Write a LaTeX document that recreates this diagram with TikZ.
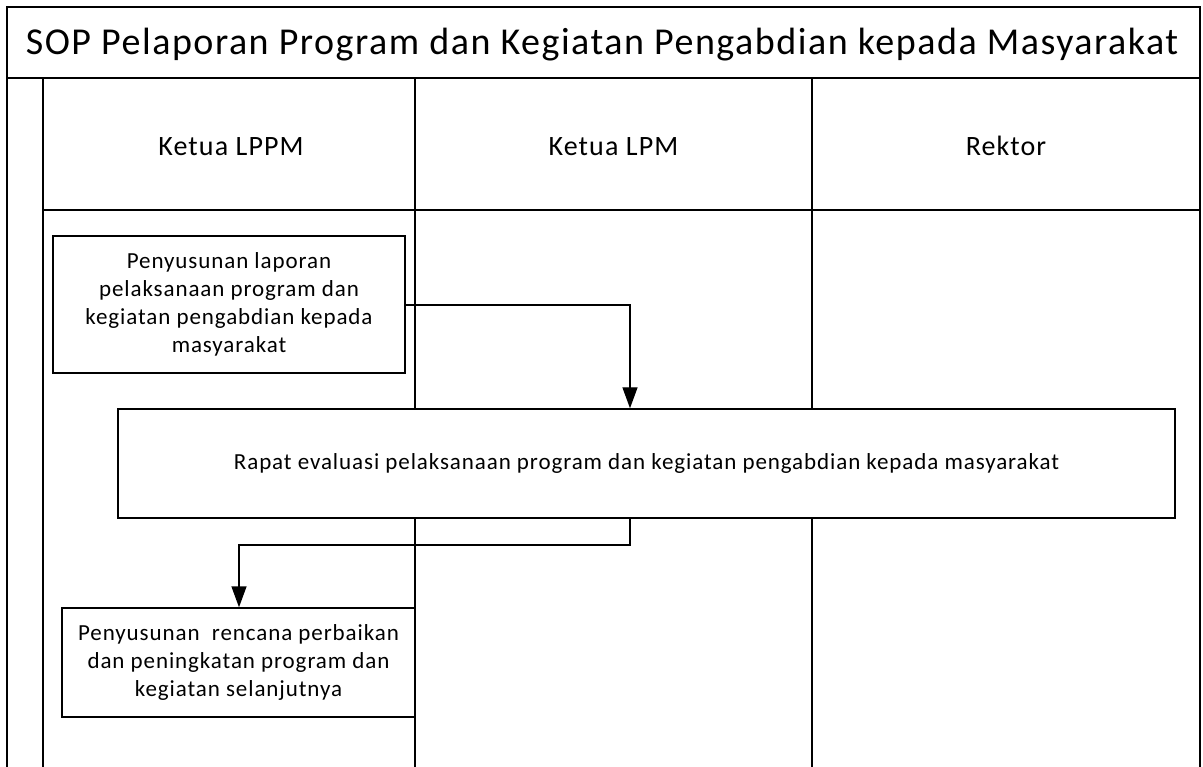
\documentclass[tikz,border=0pt]{standalone}
\usepackage{fontspec}
\setmainfont{Carlito}
\newfontfamily\spaced[LetterSpace=4]{Carlito}
\usetikzlibrary{arrows.meta}
\begin{document}
\begin{tikzpicture}[x=1pt,y=-1pt,
  frame/.style={line width=2pt},
  procbox/.style={draw,line width=1.4pt,align=center,font=\spaced\fontsize{23}{28}\selectfont,inner sep=0pt},
  flow/.style={line width=1.4pt,-{Triangle[width=15pt,length=21pt]}},
  lane/.style={font=\spaced\fontsize{28}{32}\selectfont,anchor=base}]
\useasboundingbox (0,0) rectangle (1203,767);
% frame
\draw[frame] (7,767) -- (7,7) -- (1200,7) -- (1200,767);
\draw[frame] (7,78) -- (1200,78);
\draw[frame] (43,78) -- (43,767);
\draw[frame] (43,210) -- (1200,210);
\draw[frame] (415,78) -- (415,767);
\draw[frame] (812,78) -- (812,767);
\node[font=\spaced\fontsize{38}{42}\selectfont,anchor=base] (title) at (602,55) {SOP Pelaporan Program dan Kegiatan Pengabdian kepada Masyarakat};
\node[lane] (l1) at (231,156) {Ketua LPPM};
\node[lane] (l2) at (613.5,156) {Ketua LPM};
\node[lane] (l3) at (1006,156) {Rektor};
% boxes
\node[procbox,fill=white,minimum width=352pt,minimum height=137pt] (b1) at (229,304.5)
  {Penyusunan laporan\\pelaksanaan program dan\\kegiatan pengabdian kepada\\masyarakat};
\node[procbox,fill=white,minimum width=1057pt,minimum height=109pt] (b2) at (646.5,463.5)
  {Rapat evaluasi pelaksanaan program dan kegiatan pengabdian kepada masyarakat};
\node[procbox,fill=white,minimum width=353pt,minimum height=109pt] (b3) at (238.5,662.5)
  {Penyusunan\ \ rencana perbaikan\\dan peningkatan program dan\\kegiatan selanjutnya};
% connectors
\coordinate (c1) at (630,305);
\draw[flow] (b1.east |- c1) -- (c1) -- (c1 |- b2.north);
\coordinate (c2) at (630,545);
\coordinate (c3) at (239,545);
\draw[flow] (c2 |- b2.south) -- (c2) -- (c3) -- (c3 |- b3.north);
\end{tikzpicture}
\end{document}
